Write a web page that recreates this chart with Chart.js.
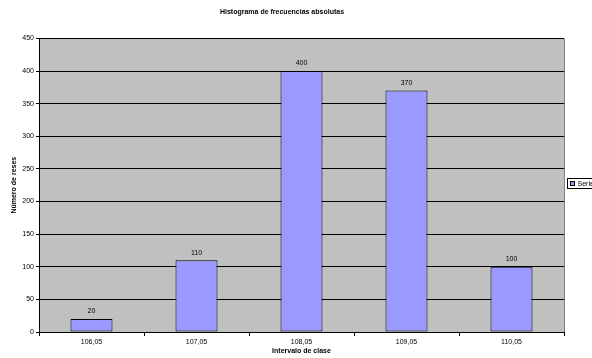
<!DOCTYPE html>
<html>
<head>
<meta charset="utf-8">
<script src="https://cdn.jsdelivr.net/npm/chart.js@4/dist/chart.umd.min.js"></script>
<style>
  html, body { margin: 0; padding: 0; background: #fff; }
  #wrap { width: 592px; height: 358px; position: relative; }
</style>
</head>
<body>
<div id="wrap"><canvas id="c" width="592" height="358"></canvas></div>
<script>
// Class intervals and absolute frequencies
const categories = ['106,05', '107,05', '108,05', '109,05', '110,05'];
const frequencies = [20, 110, 400, 370, 100];
const seriesName = 'Series1';
const yMax = 450;
const yStep = 50;

const FONT = 'Liberation Sans, Arial, sans-serif';

// Grey plot background, thin grey right edge
const plotBackground = {
  id: 'plotBackground',
  beforeDraw(chart) {
    const { ctx, chartArea: a } = chart;
    ctx.save();
    ctx.fillStyle = '#c0c0c0';
    ctx.fillRect(a.left, a.top, a.right - a.left, a.bottom - a.top);
    ctx.strokeStyle = '#808080';
    ctx.lineWidth = 1;
    ctx.beginPath();
    ctx.moveTo(a.right + 0.5, a.top);
    ctx.lineTo(a.right + 0.5, a.bottom);
    ctx.stroke();
    ctx.restore();
  }
};

// Value labels above each bar
const valueLabels = {
  id: 'valueLabels',
  afterDatasetsDraw(chart) {
    const { ctx } = chart;
    const meta = chart.getDatasetMeta(0);
    ctx.save();
    ctx.font = '7px ' + FONT;
    ctx.fillStyle = '#000';
    ctx.textAlign = 'center';
    ctx.textBaseline = 'bottom';
    meta.data.forEach((bar, i) => {
      ctx.fillText(String(frequencies[i]), bar.x, bar.y - 4);
    });
    ctx.restore();
  }
};

// Boxed legend at the right edge
const boxLegend = {
  id: 'boxLegend',
  afterDraw(chart) {
    const { ctx } = chart;
    const x = 567.5, y = 178.5, w = 40, h = 10;
    ctx.save();
    ctx.fillStyle = '#fff';
    ctx.strokeStyle = '#000';
    ctx.lineWidth = 1;
    ctx.fillRect(x, y, w, h);
    ctx.strokeRect(x, y, w, h);
    ctx.fillStyle = '#9999ff';
    ctx.fillRect(x + 3, y + 3, 4, 4);
    ctx.strokeRect(x + 3, y + 3, 4, 4);
    ctx.fillStyle = '#000';
    ctx.font = '7px ' + FONT;
    ctx.textBaseline = 'middle';
    ctx.fillText(seriesName, x + 10, y + h / 2 + 0.5);
    ctx.restore();
  }
};

new Chart(document.getElementById('c'), {
  type: 'bar',
  data: {
    labels: categories,
    datasets: [{
      label: seriesName,
      data: frequencies,
      backgroundColor: '#9999ff',
      borderColor: '#000',
      borderWidth: 1,
      borderSkipped: false,
      categoryPercentage: 1,
      barPercentage: 0.4
    }]
  },
  options: {
    responsive: false,
    animation: false,
    devicePixelRatio: 1,
    layout: { padding: { top: 0, right: 28, left: 0, bottom: 0 } },
    plugins: {
      legend: { display: false },
      tooltip: { enabled: false },
      title: {
        display: true,
        text: 'Histograma de frecuencias absolutas',
        color: '#000',
        font: { family: FONT, size: 7, weight: 'bold' },
        padding: { top: 8, bottom: 22 }
      }
    },
    scales: {
      x: {
        offset: true,
        grid: {
          offset: true,
          drawOnChartArea: false,
          drawTicks: true,
          tickLength: 4,
          color: '#000'
        },
        border: { color: '#000', width: 1 },
        ticks: {
          color: '#000',
          font: { family: FONT, size: 7 },
          padding: 2,
          maxRotation: 0
        },
        title: {
          display: true,
          text: 'Intervalo de clase',
          color: '#000',
          font: { family: FONT, size: 7, weight: 'bold' },
          padding: { top: 2, bottom: 3 }
        },
        afterFit(scale) { scale.height = 26; }
      },
      y: {
        min: 0,
        max: yMax,
        grid: {
          color: '#000',
          lineWidth: 1,
          drawTicks: true,
          tickLength: 3,
          tickColor: '#000'
        },
        border: { color: '#000', width: 1 },
        ticks: {
          stepSize: yStep,
          color: '#000',
          font: { family: FONT, size: 7 },
          padding: 2
        },
        title: {
          display: true,
          text: 'Número de reses',
          color: '#000',
          font: { family: FONT, size: 7, weight: 'bold' },
          padding: { top: 10, bottom: 4 }
        },
        afterFit(scale) { scale.width = 39; }
      }
    }
  },
  plugins: [plotBackground, valueLabels, boxLegend]
});
</script>
</body>
</html>
